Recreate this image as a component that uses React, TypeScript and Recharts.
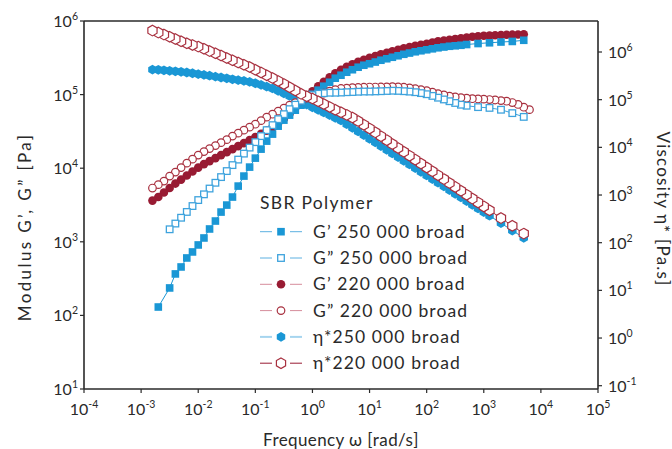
import React from "react";
import { ComposedChart, Line, XAxis, YAxis, ReferenceLine } from "recharts";

const FONT = "Lato, 'Open Sans', sans-serif";
const INK = "#2a2a2a";
const BLUE = "#1a97d5";
const BLUE_OPEN = "#3ea3dd";
const RED = "#981b33";
const RED_OPEN = "#a8303f";

// angular frequency, rad/s (ascending)
const freq = [
  0.00158, 0.002, 0.00251, 0.00316, 0.00398, 0.00501, 0.00631, 0.00794,
  0.01, 0.0126, 0.0158, 0.02, 0.0251, 0.0316, 0.0398, 0.0501, 0.0631, 0.0794,
  0.1, 0.126, 0.158, 0.2, 0.251, 0.316, 0.398, 0.501, 0.631, 0.794,
  1, 1.26, 1.58, 2, 2.51, 3.16, 3.98, 5.01, 6.31, 7.94,
  10, 12.6, 15.8, 20, 25.1, 31.6, 39.8, 50.1, 63.1, 79.4,
  100, 126, 158, 200, 251, 316, 398, 501, 631, 794,
  1000, 1260, 1580, 2000, 2510, 3160, 3980, 5010, 6310,
];

// storage modulus G', Pa — 250 000 broad
const gp250 = [
  null, 130, null, 236, 366, 455, 603, 728,
  906, 1127, 1493, 1915, 2535, 3155, 4055, 5715, 7815, 10350,
  13700, 18160, 23330, 29040, 37250, 44980, 52600, 61400, 71800, 86700,
  101000, 114800, 130000, 147200, 167000, 183300, 201400, 217800, 235500, 250600,
  262600, 277000, 293000, 307000, 321600, 337000, 353000, 367000, 381900, 394000,
  406400, 419000, 432500, 443000, 453600, 460600, 467800, 479000, null, 494000,
  null, 506000, null, 518000, null, 527500, null, 547000, null,
];

// loss modulus G'', Pa — 250 000 broad
const gpp250 = [
  null, null, null, 1479, 1770, 2123, 2545, 3060,
  3690, 4415, 5290, 6340, 7570, 9140, 11020, 13090, 15780, 19050,
  22600, 27290, 32890, 38460, 46350, 54200, 63400, 72900, 82600, 90800,
  98200, 102800, 104500, 106100, 106100, 106700, 107800, 108400, 109400, 110100,
  110100, 110600, 111200, 112000, 112900, 112300, 111200, 109800, 107800, 104800,
  101200, 96000, 90800, 85900, 81300, 77000, 72900, 70600, null, 67600,
  null, 66000, null, 62300, null, 56000, null, 49800, null,
];

// storage modulus G', Pa — 220 000 broad
const gp220 = [
  3630, 4055, 4670, 5370, 6180, 7000, 7940, 9000,
  10190, 11370, 12480, 13700, 15060, 16530, 18160, 19950, 21930, 24050,
  26420, 29440, 32360, 36110, 41200, 47000, 55500, 66400, 78850, 93700,
  111200, 130000, 149600, 172200, 195000, 217800, 239300, 258400, 279300, 297700,
  316700, 335000, 353400, 370000, 388100, 407000, 426600, 443500, 461000, 475500,
  490600, 510000, 530500, 543000, 555900, 569000, 582100, 596000, 610600, 620000,
  629500, 634400, 639400, 644600, 649900, 652000, 655000, 660000, null,
];

// loss modulus G'', Pa — 220 000 broad
const gpp220 = [
  5370, 5980, 6680, 7810, 8850, 10190, 11720, 13280,
  15060, 16800, 18450, 20280, 22230, 24430, 27290, 29920, 32890, 36110,
  39630, 44260, 49350, 54200, 59570, 65310, 71790, 77650, 83950, 89350,
  95150, 99700, 104500, 111200, 116500, 121000, 122200, 124100, 124800, 125900,
  126600, 126700, 126800, 127400, 128000, 127000, 125900, 123000, 120200, 116500,
  112900, 107700, 102800, 98900, 95100, 92900, 90800, 89300, 87900, 87300,
  86700, 85600, 84500, 82900, 81300, 78000, 73500, 67400, 62400,
];

// complex viscosity, Pa.s — 250 000 broad
const eta250 = [
  427600, 423800, 413000, 403600, 393600, 384600, 371500, 358100,
  344300, 331100, 318400, 304800, 292100, 281000, 267800, 257600, 247700, 236000,
  220800, 204200, 188200, 171800, 153700, 136200, 119700, 104500, 91200, 79300,
  69300, 61100, 53900, 47500, 41800, 36640, 30620, 25760, 21530, 18110,
  15140, 12700, 10640, 8900, 7450, 6250, 5235, 4380, 3664, 3070,
  2576, 2160, 1811, 1515, 1268, 1063, 891, 746, 624, 523,
  439, 368, null, 257, null, 180, null, 127, null,
];

// complex viscosity, Pa.s — 220 000 broad
const eta220 = [
  2810000, 2553000, 2317000, 2084000, 1866000, 1675000, 1521000, 1403000,
  1297000, 1167000, 1044000, 939700, 841400, 748200, 669900, 599800, 539500, 483100,
  423600, 371700, 325100, 283800, 246600, 213300, 181900, 155200, 132400, 117800,
  105400, 92600, 80900, 70300, 61400, 54450, 47970, 42170, 35560, 29780,
  24890, 20630, 17100, 14160, 11720, 9710, 8050, 6670, 5520, 4580,
  3793, 3140, 2600, 2155, 1786, 1480, 1225, 1015, 841, 697,
  577, 478, null, 328, null, 226, null, 155, null,
];

const xTicks = [1e-4, 1e-3, 1e-2, 1e-1, 1, 1e1, 1e2, 1e3, 1e4, 1e5];
const leftTicks = [1e1, 1e2, 1e3, 1e4, 1e5, 1e6];
const rightTicks = [1e-1, 1, 1e1, 1e2, 1e3, 1e4, 1e5, 1e6];

// the sweep runs from high to low frequency, so later markers overlap earlier ones on the left
const rows = freq
  .map((w, i) => ({
    w,
    gp250: gp250[i],
    gpp250: gpp250[i],
    gp220: gp220[i],
    gpp220: gpp220[i],
    eta250: eta250[i],
    eta220: eta220[i],
  }))
  .reverse();

type Kind = "square" | "squareOpen" | "circle" | "circleOpen" | "hex" | "hexOpen";

const hexPoints = (cx: number, cy: number, r: number) =>
  [0, 1, 2, 3, 4, 5]
    .map((k) => {
      const a = ((60 * k - 90) * Math.PI) / 180;
      return `${(cx + r * Math.cos(a)).toFixed(2)},${(cy + r * Math.sin(a)).toFixed(2)}`;
    })
    .join(" ");

const Marker = ({ kind, cx, cy }: { kind: Kind; cx: number; cy: number }) => {
  switch (kind) {
    case "square":
      return <rect x={cx - 3.8} y={cy - 3.8} width={7.6} height={7.6} fill={BLUE} />;
    case "squareOpen":
      return (
        <rect x={cx - 3.3} y={cy - 3.3} width={6.6} height={6.6} fill="#fff" stroke={BLUE_OPEN} strokeWidth={1.3} />
      );
    case "circle":
      return <circle cx={cx} cy={cy} r={4.3} fill={RED} />;
    case "circleOpen":
      return <circle cx={cx} cy={cy} r={3.8} fill="#fff" stroke={RED_OPEN} strokeWidth={1.2} />;
    case "hex":
      return <polygon points={hexPoints(cx, cy, 4.9)} fill={BLUE} />;
    default:
      return <polygon points={hexPoints(cx, cy, 5.3)} fill="#fff" stroke={RED_OPEN} strokeWidth={1.2} />;
  }
};

const dotFor = (kind: Kind, key: string) => (p: any) => {
  if (p.cx == null || p.cy == null || p.value == null) return <g key={`${key}-${p.index}`} />;
  return (
    <g key={`${key}-${p.index}`}>
      <Marker kind={kind} cx={p.cx} cy={p.cy} />
    </g>
  );
};

const series: { key: string; axis: string; kind: Kind; stroke: string }[] = [
  { key: "eta250", axis: "right", kind: "hex", stroke: BLUE },
  { key: "gp220", axis: "left", kind: "circle", stroke: RED },
  { key: "gp250", axis: "left", kind: "square", stroke: BLUE },
  { key: "gpp220", axis: "left", kind: "circleOpen", stroke: RED_OPEN },
  { key: "gpp250", axis: "left", kind: "squareOpen", stroke: BLUE_OPEN },
  { key: "eta220", axis: "right", kind: "hexOpen", stroke: RED_OPEN },
];

const legendRows: { label: string; kind: Kind; line: string; width: number }[] = [
  { label: "G\u2019 250 000 broad", kind: "square", line: "#5cb0e1", width: 1 },
  { label: "G\u201d 250 000 broad", kind: "squareOpen", line: "#5cb0e1", width: 1 },
  { label: "G\u2019 220 000 broad", kind: "circle", line: "#d68d9b", width: 1 },
  { label: "G\u201d 220 000 broad", kind: "circleOpen", line: "#d68d9b", width: 1 },
  { label: "\u03b7*250 000 broad", kind: "hex", line: "#a6d5ef", width: 2 },
  { label: "\u03b7*220 000 broad", kind: "hexOpen", line: RED, width: 1 },
];

const pow10 = (v: number) => Math.round(Math.log10(v));

const XTick = (p: any) => (
  <text x={p.x} y={p.y + 20} textAnchor="middle" fill={INK} fontFamily={FONT} fontSize={16}>
    10
    <tspan dy={-7} fontSize={10.5}>
      {pow10(p.payload.value)}
    </tspan>
  </text>
);

const LeftTick = (p: any) => (
  <text x={p.x} y={p.y + 6} textAnchor="end" fill={INK} fontFamily={FONT} fontSize={16}>
    10
    <tspan dy={-7} fontSize={10.5}>
      {pow10(p.payload.value)}
    </tspan>
  </text>
);

const RightTick = (p: any) => (
  <text x={p.x + 4} y={p.y + 6} textAnchor="start" fill={INK} fontFamily={FONT} fontSize={16}>
    10
    <tspan dy={-7} fontSize={10.5}>
      {pow10(p.payload.value)}
    </tspan>
  </text>
);

const Overlay = () => (
  <svg
    width={672}
    height={449}
    style={{ position: "absolute", left: 0, top: 0, pointerEvents: "none" }}
    fontFamily={FONT}
    fill={INK}
  >
    <text
      transform="translate(24,227) rotate(-90)"
      textAnchor="middle"
      dominantBaseline="central"
      fontSize={17}
      letterSpacing={2.4}
    >
      Modulus G{"\u2019"}, G{"\u201d"} [Pa]
    </text>
    <text
      transform="translate(663,209) rotate(90)"
      textAnchor="middle"
      dominantBaseline="central"
      fontSize={17}
      letterSpacing={1.2}
    >
      Viscosity {"\u03b7"}* [Pa.s]
    </text>
    <text x={341} y={446} textAnchor="middle" fontSize={17} letterSpacing={0.4}>
      Frequency {"\u03c9"} [rad/s]
    </text>

    <g transform="translate(252,188)">
      <text x={8} y={21} fontSize={17.5} letterSpacing={1.3}>
        SBR Polymer
      </text>
      {legendRows.map((r, i) => {
        const y = 43.7 + i * 26.3;
        return (
          <g key={r.label}>
            <line x1={8} x2={20} y1={y} y2={y} stroke={r.line} strokeWidth={r.width} />
            <line x1={38} x2={50} y1={y} y2={y} stroke={r.line} strokeWidth={r.width} />
            <Marker kind={r.kind} cx={29} cy={y} />
            <text x={61} y={y + 6} fontSize={17.5} letterSpacing={1.1}>
              {r.label}
            </text>
          </g>
        );
      })}
    </g>
  </svg>
);

export default function App() {
  return (
    <div style={{ position: "absolute", left: 0, top: 0, width: 672, height: 449, background: "#fff" }}>
      <ComposedChart width={672} height={449} data={rows} margin={{ top: 21, right: 0, bottom: 0, left: 0 }}>
        <XAxis
          dataKey="w"
          type="number"
          scale="log"
          domain={[1e-4, 1e5]}
          ticks={xTicks}
          allowDataOverflow
          height={60}
          tickSize={4}
          tickMargin={2}
          tick={<XTick />}
          axisLine={{ stroke: INK, strokeWidth: 1.6 }}
          tickLine={{ stroke: INK, strokeWidth: 1.2 }}
        />
        <YAxis
          yAxisId="left"
          type="number"
          scale="log"
          domain={[10, 1e6]}
          ticks={leftTicks}
          allowDataOverflow
          width={84}
          tickSize={4}
          tickMargin={2}
          tick={<LeftTick />}
          axisLine={{ stroke: INK, strokeWidth: 1.6 }}
          tickLine={{ stroke: INK, strokeWidth: 1.2 }}
        />
        <YAxis
          yAxisId="right"
          orientation="right"
          type="number"
          scale="log"
          domain={[0.0853, 4.47e6]}
          ticks={rightTicks}
          allowDataOverflow
          width={74}
          tickSize={4}
          tickMargin={2}
          tick={<RightTick />}
          axisLine={{ stroke: INK, strokeWidth: 1.6 }}
          tickLine={{ stroke: INK, strokeWidth: 1.2 }}
        />
        <ReferenceLine yAxisId="left" y={1e6} stroke={INK} strokeWidth={1.6} />
        {series.map((s) => (
          <Line
            key={s.key}
            yAxisId={s.axis}
            dataKey={s.key}
            type="linear"
            stroke={s.stroke}
            strokeWidth={1}
            connectNulls
            dot={dotFor(s.kind, s.key)}
            activeDot={false}
            isAnimationActive={false}
          />
        ))}
      </ComposedChart>
      <Overlay />
    </div>
  );
}
